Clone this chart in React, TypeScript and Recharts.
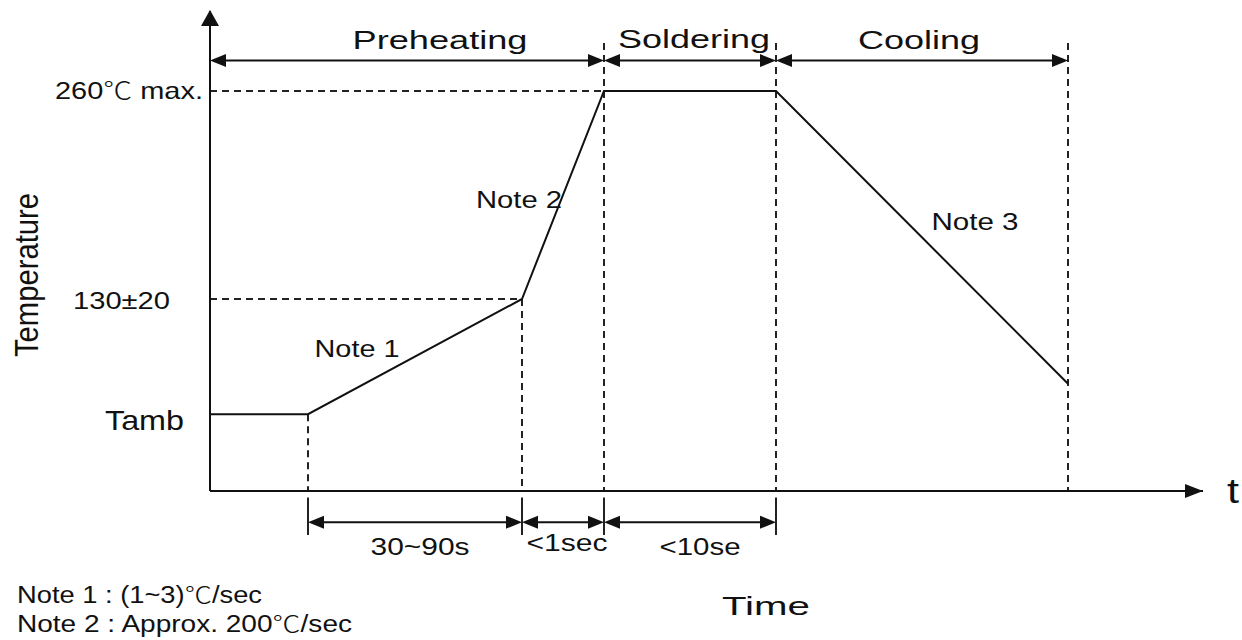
import { ComposedChart, Line, XAxis, YAxis, ReferenceLine, ReferenceDot } from "recharts";

// Reflow soldering profile (schematic). Time in arbitrary units, temperature in chart units.

const FONT = "'Liberation Sans', Arial, 'Noto Sans CJK SC', sans-serif";
const CJK = "'Noto Sans CJK SC', 'Noto Sans CJK JP', sans-serif";

const times = [0, 98, 312, 394, 566, 858];
const temps = [58, 58, 130, 260, 260, 77];

const tempTicks = [58, 130, 260];
const tempTickLabels = ["Tamb", "130±20", "260℃ max."];

const phaseNames = ["Preheating", "Soldering", "Cooling"];
const phaseEdges = [0, 394, 566, 858];

const stepNames = ["30~90s", "<1sec", "<10se"];
const stepEdges = [98, 312, 394, 566];

const noteNames = ["Note 1", "Note 2", "Note 3"];
const footnotes = ["Note 1 : (1~3)℃/sec", "Note 2 : Approx. 200℃/sec"];

const profile = times.map((t, i) => ({ t, temp: temps[i] }));

// layout
const X_MAX = 993;
const Y_MIN = 10;
const Y_MAX = 310;
const PHASE_ARROW_Y = 279;
const PHASE_TOP = 290;
const STEP_ARROW_Y = -9.5;
const TICK_TOP = 6;
const TICK_BOTTOM = -17.5;

const phaseLabelPos = [
  { t: 230, T: 286, w: 175 },
  { t: 484, T: 287, w: 152 },
  { t: 709, T: 286, w: 122 },
];
const stepLabelPos = [
  { t: 210, T: -30, w: 99 },
  { t: 357, T: -27.5, w: 81 },
  { t: 490, T: -30, w: 81 },
];
const noteLabelPos = [
  { t: 147, T: 94, w: 85 },
  { t: 309, T: 187, w: 86 },
  { t: 765, T: 173, w: 87 },
];
const tickLabelStyle = [
  { right: 184, dy: 16, w: 79, size: 28 },
  { right: 170, dy: 10, w: 97, size: 23 },
  { right: 203, dy: 8, w: 148, size: 24 },
];

const DASH = "7 5";

// wrap the ℃ sign in a CJK font, as the original draws it with a thin CJK glyph
function withDegree(s: string) {
  const parts = s.split("℃");
  return parts.map((part, i) => (
    <tspan key={i}>
      {part}
      {i < parts.length - 1 && (
        <tspan fontFamily={CJK} fontWeight={300}>
          ℃
        </tspan>
      )}
    </tspan>
  ));
}

function Txt({ x, y, w, size, anchor = "middle", rotate, children }: any) {
  return (
    <text
      x={x}
      y={y}
      fontSize={size}
      textAnchor={anchor}
      textLength={w}
      lengthAdjust="spacingAndGlyphs"
      fontFamily={FONT}
      fill="#111"
      transform={rotate ? `rotate(${rotate} ${x} ${y})` : undefined}
    >
      {typeof children === "string" ? withDegree(children) : children}
    </text>
  );
}

function dimArrow(p: any) {
  const x1 = Math.min(p.x1, p.x2);
  const x2 = Math.max(p.x1, p.x2);
  const y = p.y1;
  const h = 16;
  const w = 6.5;
  return (
    <g>
      <line x1={x1 + h - 2} y1={y} x2={x2 - h + 2} y2={y} stroke="#111" strokeWidth={2} />
      <polygon points={`${x1},${y} ${x1 + h},${y - w} ${x1 + h},${y + w}`} fill="#111" />
      <polygon points={`${x2},${y} ${x2 - h},${y - w} ${x2 - h},${y + w}`} fill="#111" />
    </g>
  );
}

function TempTick(props: any) {
  const i = tempTicks.indexOf(props.payload.value);
  const s = tickLabelStyle[i];
  return (
    <Txt x={s.right} y={props.y + s.dy} w={s.w} size={s.size} anchor="end">
      {tempTickLabels[i]}
    </Txt>
  );
}

export default function App() {
  return (
    <div style={{ position: "absolute", left: 0, top: 0, width: 1242, height: 640, background: "#fff" }}>
      <ComposedChart
        width={1242}
        height={640}
        data={profile}
        margin={{ top: 11, right: 39, bottom: 0, left: 0 }}
      >
        <XAxis
          dataKey="t"
          type="number"
          domain={[0, X_MAX]}
          allowDataOverflow
          height={149}
          tick={false}
          tickLine={false}
          axisLine={{ stroke: "#111", strokeWidth: 2 }}
          label={{
            content: () => (
              <Txt x={766} y={615} w={88} size={26}>
                Time
              </Txt>
            ),
          }}
        />
        <YAxis
          type="number"
          domain={[Y_MIN, Y_MAX]}
          allowDataOverflow
          width={210}
          ticks={tempTicks}
          tick={<TempTick />}
          tickLine={false}
          tickSize={0}
          tickMargin={0}
          axisLine={{ stroke: "#111", strokeWidth: 2 }}
          label={{
            content: () => (
              <Txt x={38} y={275} w={164} size={33} rotate={-90}>
                Temperature
              </Txt>
            ),
          }}
        />

        {/* guide lines */}
        <ReferenceLine segment={[{ x: 0, y: temps[3] }, { x: times[3], y: temps[3] }]} stroke="#222" strokeWidth={2} strokeDasharray={DASH} ifOverflow="visible" />
        <ReferenceLine segment={[{ x: 0, y: temps[2] }, { x: times[2], y: temps[2] }]} stroke="#222" strokeWidth={2} strokeDasharray={DASH} ifOverflow="visible" />
        <ReferenceLine segment={[{ x: times[1], y: temps[1] }, { x: times[1], y: Y_MIN }]} stroke="#222" strokeWidth={2} strokeDasharray={DASH} ifOverflow="visible" />
        <ReferenceLine segment={[{ x: times[2], y: temps[2] }, { x: times[2], y: Y_MIN }]} stroke="#222" strokeWidth={2} strokeDasharray={DASH} ifOverflow="visible" />
        {phaseEdges.slice(1).map((t) => (
          <ReferenceLine key={`pv${t}`} segment={[{ x: t, y: PHASE_TOP }, { x: t, y: Y_MIN }]} stroke="#222" strokeWidth={2} strokeDasharray={DASH} ifOverflow="visible" />
        ))}
        {stepEdges.map((t) => (
          <ReferenceLine key={`sv${t}`} segment={[{ x: t, y: TICK_TOP }, { x: t, y: TICK_BOTTOM }]} stroke="#222" strokeWidth={2} ifOverflow="visible" />
        ))}

        {/* dimension arrows */}
        {phaseNames.map((name, i) => (
          <ReferenceLine
            key={name}
            segment={[{ x: phaseEdges[i], y: PHASE_ARROW_Y }, { x: phaseEdges[i + 1], y: PHASE_ARROW_Y }]}
            ifOverflow="visible"
            shape={dimArrow}
          />
        ))}
        {stepNames.map((name, i) => (
          <ReferenceLine
            key={name}
            segment={[{ x: stepEdges[i], y: STEP_ARROW_Y }, { x: stepEdges[i + 1], y: STEP_ARROW_Y }]}
            ifOverflow="visible"
            shape={dimArrow}
          />
        ))}

        <Line
          type="linear"
          dataKey="temp"
          stroke="#111"
          strokeWidth={2}
          dot={false}
          activeDot={false}
          isAnimationActive={false}
        />

        {/* axis arrowheads */}
        <ReferenceDot
          x={0}
          y={Y_MAX}
          r={0}
          ifOverflow="visible"
          shape={(p: any) => (
            <polygon points={`${p.cx},${p.cy - 1} ${p.cx - 9},${p.cy + 15} ${p.cx + 9},${p.cy + 15}`} fill="#111" />
          )}
        />
        <ReferenceDot
          x={X_MAX}
          y={Y_MIN}
          r={0}
          ifOverflow="visible"
          shape={(p: any) => (
            <g>
              <polygon points={`${p.cx},${p.cy} ${p.cx - 18},${p.cy - 7} ${p.cx - 18},${p.cy + 7}`} fill="#111" />
              <Txt x={p.cx + 30} y={p.cy + 12} w={12} size={35}>
                t
              </Txt>
            </g>
          )}
        />

        {/* text labels */}
        {phaseNames.map((name, i) => (
          <ReferenceDot
            key={`pl${name}`}
            x={phaseLabelPos[i].t}
            y={phaseLabelPos[i].T}
            r={0}
            ifOverflow="visible"
            shape={(p: any) => (
              <Txt x={p.cx} y={p.cy} w={phaseLabelPos[i].w} size={25}>
                {name}
              </Txt>
            )}
          />
        ))}
        {stepNames.map((name, i) => (
          <ReferenceDot
            key={`sl${name}`}
            x={stepLabelPos[i].t}
            y={stepLabelPos[i].T}
            r={0}
            ifOverflow="visible"
            shape={(p: any) => (
              <Txt x={p.cx} y={p.cy} w={stepLabelPos[i].w} size={23}>
                {name}
              </Txt>
            )}
          />
        ))}
        {noteNames.map((name, i) => (
          <ReferenceDot
            key={`nl${name}`}
            x={noteLabelPos[i].t}
            y={noteLabelPos[i].T}
            r={0}
            ifOverflow="visible"
            shape={(p: any) => (
              <Txt x={p.cx} y={p.cy} w={noteLabelPos[i].w} size={23}>
                {name}
              </Txt>
            )}
          />
        ))}
      </ComposedChart>

      <svg width={1242} height={640} style={{ position: "absolute", left: 0, top: 0, pointerEvents: "none" }}>
        <Txt x={17} y={603} w={245} size={23} anchor="start">
          {footnotes[0]}
        </Txt>
        <Txt x={17} y={632} w={335} size={23} anchor="start">
          {footnotes[1]}
        </Txt>
      </svg>
    </div>
  );
}
